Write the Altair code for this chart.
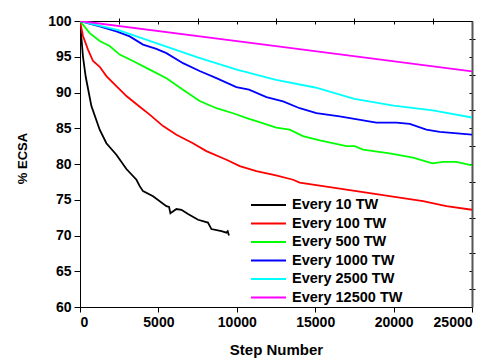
import altair as alt
import pandas as pd

FONT = "Liberation Sans"

series_names = ["Every 10 TW", "Every 100 TW", "Every 500 TW",
                "Every 1000 TW", "Every 2500 TW", "Every 12500 TW"]
series_colors = ["#000000", "#ff0000", "#00ff00", "#0000ff", "#00ffff", "#ff00ff"]

steps_10 = [0, 190, 364, 727, 1256, 1683, 2320, 2960, 3600, 3808, 4020, 4660,
            5510, 5680, 5766, 6150, 6470, 6890, 7530, 8160, 8380, 9020, 9340, 9420, 9500]
ecsa_10 = [100, 95.0, 92.2, 88.1, 84.8, 82.9, 81.3, 79.3, 77.8, 76.9, 76.2, 75.5,
           74.1, 74.0, 73.1, 73.7, 73.6, 73.0, 72.2, 71.8, 70.9, 70.6, 70.4, 70.6, 70.0]

steps_100 = [0, 190, 510, 830, 1256, 1683, 2320, 2960, 3808, 4445, 5300, 6150, 7200,
             8060, 9340, 10190, 11250, 12500, 13590, 14010, 15500, 17630, 19750,
             21880, 23370, 25000]
ecsa_100 = [100, 97.9, 96.0, 94.4, 93.6, 92.3, 90.9, 89.5, 88.0, 86.9, 85.3, 84.1, 82.9,
            81.8, 80.6, 79.7, 79.0, 78.4, 77.8, 77.4, 76.9, 76.2, 75.5,
            74.8, 74.1, 73.6]

steps_500 = [0, 620, 1256, 1890, 2530, 3380, 4445, 5510, 6570, 7630, 8700, 9760, 10780,
             11250, 12520, 13370, 14220, 15290, 16990, 17520, 18050, 19750, 21240,
             22480, 23150, 24000, 25000]
ecsa_500 = [100, 98.3, 97.2, 96.5, 95.3, 94.4, 93.2, 92.0, 90.4, 88.8, 87.8, 87.1, 86.3,
            86.0, 85.1, 84.8, 83.9, 83.3, 82.5, 82.5, 82.0, 81.5, 80.9,
            80.1, 80.3, 80.3, 79.8]

steps_1000 = [0, 1256, 2320, 3170, 4020, 4870, 5510, 6570, 7630, 8700, 9970, 10780,
              11890, 12950, 14010, 15080, 16560, 18900, 20180, 21030, 22090, 22940, 25000]
ecsa_1000 = [100, 99.25, 98.55, 97.85, 96.7, 96.1, 95.5, 94.1, 93.0, 92.0, 90.75, 90.4,
             89.35, 88.75, 87.8, 87.1, 86.65, 85.8, 85.8, 85.6, 84.8, 84.5, 84.1]

steps_2500 = [0, 2500, 5000, 7500, 10000, 12500, 15000, 17500, 20000, 22500, 25000]
ecsa_2500 = [100, 98.7, 96.8, 94.9, 93.2, 91.75, 90.7, 89.1, 88.15, 87.5, 86.5]

steps_12500 = [0, 12500, 25000]
ecsa_12500 = [100, 96.5, 92.95]

x_major = [0, 5000, 10000, 15000, 20000, 25000]
x_minor = [2500, 7500, 12500, 17500, 22500]
x_all = [0, 2500, 5000, 7500, 10000, 12500, 15000, 17500, 20000, 22500, 25000]
y_major = [60, 65, 70, 75, 80, 85, 90, 95, 100]
y_minor = [62.5, 67.5, 72.5, 77.5, 82.5, 87.5, 92.5, 97.5]
y_all = [60, 62.5, 65, 67.5, 70, 72.5, 75, 77.5, 80, 82.5, 85, 87.5, 90, 92.5, 95, 97.5, 100]

all_steps = [steps_10, steps_100, steps_500, steps_1000, steps_2500, steps_12500]
all_ecsa = [ecsa_10, ecsa_100, ecsa_500, ecsa_1000, ecsa_2500, ecsa_12500]

rows = []
for name, ss, vv in zip(series_names, all_steps, all_ecsa):
    for i, (s, v) in enumerate(zip(ss, vv)):
        rows.append({"series": name, "step": s, "ecsa": v, "order": i})
df = pd.DataFrame(rows)

xscale = alt.Scale(domain=[0, 25000], nice=False)
yscale = alt.Scale(domain=[60, 100], nice=False, zero=False)

lab = dict(labelFont=FONT, labelFontSize=14, labelFontWeight="bold", labelColor="black",
           titleFont=FONT, titleFontWeight="bold", titleColor="black",
           domainColor="black", tickColor="black", grid=False)

lines = alt.Chart(df).mark_line(strokeWidth=1.8, clip=True).encode(
    x=alt.X("step:Q", scale=xscale,
            axis=alt.Axis(values=x_major, format="d", title="Step Number", tickSize=5,
                          labelPadding=3, titlePadding=13, titleFontSize=15, **lab)),
    y=alt.Y("ecsa:Q", scale=yscale,
            axis=alt.Axis(values=y_major, format="d", title="% ECSA", tickSize=6,
                          labelPadding=3, titlePadding=18, titleFontSize=13,
                          titleY=137, **lab)),
    color=alt.Color("series:N",
                    scale=alt.Scale(domain=series_names, range=series_colors),
                    legend=alt.Legend(title=None, orient="none", legendX=180.5, legendY=176,
                                      symbolType="M-2.5,0H2.5", symbolSize=196,
                                      symbolStrokeWidth=2, labelFont=FONT,
                                      labelFontSize=14.5, labelFontWeight="bold",
                                      labelColor="black", labelOffset=15.5,
                                      rowPadding=3.5, padding=0)),
    order="order:Q",
)

minor = alt.Chart(df).mark_line(opacity=0).encode(
    x=alt.X("step:Q", scale=xscale, title=None,
            axis=alt.Axis(values=x_minor, labels=False, domain=False, tickSize=3,
                          tickColor="black", grid=False)),
    y=alt.Y("ecsa:Q", scale=yscale, title=None,
            axis=alt.Axis(values=y_minor, labels=False, domain=False, tickSize=3,
                          tickColor="black", grid=False)),
    detail="series:N",
)

frame = alt.Chart(df).mark_line(opacity=0).encode(
    x=alt.X("step:Q", scale=xscale, title=None,
            axis=alt.Axis(values=x_all, orient="bottom", offset=-286, labels=False,
                          domain=True, domainColor="black", tickSize=3,
                          tickColor="black", grid=False)),
    y=alt.Y("ecsa:Q", scale=yscale, title=None,
            axis=alt.Axis(values=y_all, orient="left", offset=-392, labels=False,
                          domain=True, domainColor="#555555", domainWidth=2,
                          tickSize=3, tickColor="black", grid=False)),
    detail="series:N",
)

chart = alt.layer(lines, minor, frame).resolve_axis(
    x="independent", y="independent"
).properties(
    width=392, height=286,
    autosize="none",
    padding={"left": 72, "top": 13, "right": 12, "bottom": 51},
    background="white",
).configure_view(stroke="black", strokeWidth=1)

chart.save("out.html", embed_options={"renderer": "svg", "actions": False})
